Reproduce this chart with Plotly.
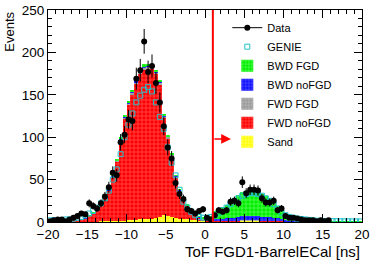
import numpy as np
import plotly.graph_objects as go

# ---- binning (0.5 ns bins from -20 to 20) ----
bin_centers = np.arange(-19.75, 20.0, 0.5)
BIN_WIDTH = 0.5
CUT_VALUE = 1.0
ARROW_Y = 98

data_counts = [1, 2, 3, 3, 1, 3, 5, 7, 10, 9,
               22, 19, 16, 22, 30, 41, 58, 55, 94, 103,
               121, 119, 169, 179, 213, 177, 184, 164, 141, 113,
               88, 75, 46, 33, 27, 15, 13, 10, 13, 15,
               5, 3, 8, 14, 12, 14, 24, 25, 22, 47,
               34, 38, 38, 37, 28, 23, 23, 25, 14, 16,
               7, 5, 5, 4, 3, 2, 2, 2, 1, 2,
               1, 2, None, None, None, None, None, None, None, None]

genie = [2, 2, 2, 2, 3, 3, 4, 5, 6, 8,
         10, 13, 17, 22, 28, 37, 50, 62, 80, 100,
         115, 128, 141, 149, 156, 159, 154, 141, 124, 110,
         88, 70, 55, 38, 24, 17, 12, 8, 6, 5,
         5, 6, 8, 11, 14, 17, 21, 25, 28, 31,
         33, 34, 34, 33, 31, 28, 25, 21, 16, 11,
         8, 6, 5, 4, 3.5, 3, 2.5, 2, 1.5, 1.3,
         1.2, 1, 1, 1, 0.8, 0.8, 0.8, 0.7, 0.7, 0.6]

sand = [0, 0, 0, 0, 0, 0, 0, 0.3, 0.3, 0.3,
        0.5, 0.5, 0.5, 0.8, 0.8, 1, 1, 1, 1.5, 1.5,
        2, 2, 2.5, 3, 3.5, 3, 4, 5, 6, 8,
        7, 6, 5, 4, 3.5, 3, 2.5, 2, 1.5, 1.5,
        1, 1, 1, 1, 1, 1, 1, 1, 1, 1.5,
        1.5, 1.5, 1.5, 1.5, 1, 1, 1, 1, 1, 1,
        0.5, 0.5, 0.5, 0.5, 0.5, 0.3, 0.3, 0.3, 0.3, 0.3,
        0.2, 0.2, 0.2, 0.1, 0.1, 0.1, 0.1, 0, 0, 0]

fwd_nofgd = [0.5, 1, 1, 1, 1, 1.5, 2, 2, 3, 4,
             7, 10, 14, 19, 27, 36, 52, 70, 95, 120,
             136, 148, 160, 171, 176, 177, 176, 169, 156, 115,
             92, 72, 48, 33, 24, 16, 11, 6, 4, 2,
             1, 0.5, 0.3, 0.3, 0.2, 0.2, 0.2, 0.2, 0.2, 0.2,
             0.2, 0.2, 0.2, 0.2, 0.2, 0.2, 0.2, 0.2, 0.2, 0.2,
             0.1, 0.1, 0.1, 0.1, 0.1, 0.1, 0.1, 0.1, 0.1, 0.1,
             0, 0, 0, 0, 0, 0, 0, 0, 0, 0]

fwd_fgd = [0, 0, 0, 0, 0, 0, 0, 0.1, 0.1, 0.1,
           0.2, 0.2, 0.3, 0.4, 0.5, 0.6, 0.8, 1, 1.3, 1.6,
           2, 2.2, 2.5, 2.7, 2.8, 2.8, 2.7, 2.5, 2.2, 1.8,
           1.5, 1.2, 0.9, 0.6, 0.4, 0.3, 0.2, 0.2, 0.1, 0.1,
           0.1, 0.1, 0.2, 0.2, 0.2, 0.2, 0.3, 0.3, 0.3, 0.3,
           0.3, 0.3, 0.3, 0.3, 0.3, 0.3, 0.3, 0.2, 0.2, 0.2,
           0.1, 0.1, 0.1, 0.1, 0.1, 0.1, 0.1, 0.1, 0.1, 0.1,
           0, 0, 0, 0, 0, 0, 0, 0, 0, 0]

bwd_nofgd = [0, 0, 0, 0, 0, 0, 0, 0, 0, 0.1,
             0.1, 0.1, 0.2, 0.2, 0.3, 0.4, 0.5, 0.6, 0.8, 1,
             1.2, 1.3, 1.4, 1.5, 1.5, 1.5, 1.4, 1.3, 1.2, 1,
             0.8, 0.6, 0.5, 0.4, 0.3, 0.3, 0.3, 0.3, 0.4, 0.6,
             1, 1.5, 2, 2, 2.5, 3, 3, 3.5, 4, 4.5,
             5, 5, 5, 5, 4.5, 4, 4, 3.5, 3, 2,
             1.5, 1, 1, 0.5, 0.5, 0.5, 0.4, 0.3, 0.3, 0.2,
             0.2, 0.2, 0.1, 0.1, 0.1, 0, 0, 0, 0, 0]

bwd_fgd = [0, 0, 0, 0, 0, 0, 0, 0, 0, 0,
           0.1, 0.1, 0.2, 0.3, 0.4, 0.5, 0.6, 0.8, 1, 1.2,
           1.5, 1.8, 2, 2.2, 2.3, 2.3, 2.2, 2, 1.8, 1.5,
           1.2, 1, 0.8, 0.6, 0.5, 0.5, 0.5, 0.6, 0.8, 1.2,
           2, 4, 9, 11, 13.5, 16, 20, 23.5, 26, 28.5,
           30, 31, 31, 30, 27.5, 25, 22, 19.5, 15, 10,
           5, 4.5, 3.5, 3, 2.5, 2, 1.5, 1.2, 1, 0.8,
           0.6, 0.5, 0.4, 0.3, 0.3, 0.3, 0.2, 0.2, 0.2, 0.2]

FONT = "Liberation Sans, Arial, Helvetica, sans-serif"

fig = go.Figure()

# stacked MC components (bottom to top)
stack = [
    ("Sand", sand, "#ffff00", "#ffff99", 7),
    ("FWD noFGD", fwd_nofgd, "#ff0000", "#ff6a6a", 6),
    ("FWD FGD", fwd_fgd, "#9a9a9a", "#c4c4c4", 5),
    ("BWD noFGD", bwd_nofgd, "#1010ff", "#6464ff", 4),
    ("BWD FGD", bwd_fgd, "#00ee00", "#7cff7c", 3),
]
for name, vals, col, fg, rank in stack:
    fig.add_trace(go.Bar(
        x=bin_centers, y=vals, name=name, width=BIN_WIDTH,
        marker=dict(color=col, line=dict(width=0),
                    pattern=dict(shape="+", fgcolor=fg, bgcolor=col, fillmode="replace",
                                 size=4, solidity=0.25)),
        legendrank=rank,
    ))

# GENIE open squares
fig.add_trace(go.Scatter(
    x=bin_centers, y=genie, mode="markers", name="GENIE",
    marker=dict(symbol="square-open", size=5, color="#20c0c8", line=dict(width=1)),
    legendrank=2,
))

# Data legend entry (line + marker)
fig.add_trace(go.Scatter(
    x=[None], y=[None], mode="lines+markers", name="Data",
    line=dict(color="black", width=1),
    marker=dict(symbol="circle", size=6, color="black"),
    legendrank=1,
))

data_err = [None if v is None else float(np.sqrt(v)) for v in data_counts]
fig.add_trace(go.Scatter(
    x=bin_centers, y=data_counts, mode="markers", name="Data", showlegend=False,
    marker=dict(symbol="circle", size=6, color="black"),
    error_y=dict(type="data", array=data_err, visible=True, color="black", thickness=1, width=0),
    error_x=dict(type="constant", value=BIN_WIDTH / 2, visible=True, color="black", thickness=1, width=0),
))

# cut line and arrow
fig.add_shape(type="line", x0=CUT_VALUE, x1=CUT_VALUE, y0=0, y1=250,
              xref="x", yref="y", line=dict(color="#ff0000", width=2))
fig.add_annotation(x=CUT_VALUE + 2.3, y=ARROW_Y, ax=CUT_VALUE, ay=ARROW_Y,
                   xref="x", yref="y", axref="x", ayref="y", text="",
                   showarrow=True, arrowhead=2, arrowsize=1.3, arrowwidth=1.5,
                   arrowcolor="#ff0000")

# axis titles
fig.add_annotation(text="Events", xref="paper", yref="paper", x=-0.125, y=1.0,
                   xanchor="center", yanchor="top", textangle=-90, showarrow=False,
                   font=dict(size=13, family=FONT, color="black"))
fig.add_annotation(text="ToF FGD1-BarrelECal [ns]", xref="paper", yref="paper",
                   x=1.0, y=-0.138, xanchor="right", yanchor="middle", showarrow=False,
                   font=dict(size=15, family=FONT, color="black"))

fig.update_layout(
    template="none",
    width=374, height=261,
    margin=dict(l=48, r=12, t=10, b=39, pad=0, autoexpand=False),
    barmode="stack", bargap=0,
    plot_bgcolor="white", paper_bgcolor="white",
    font=dict(family=FONT, size=13, color="black"),
    showlegend=True,
    legend=dict(x=0.571, y=0.985, xanchor="left", yanchor="top",
                bgcolor="rgba(0,0,0,0)", borderwidth=0,
                font=dict(size=11, family=FONT), traceorder="normal",
                itemwidth=30),
)
fig.update_xaxes(range=[-20, 20], dtick=5, tick0=0, ticks="inside", ticklen=8,
                 tickcolor="black", showline=True, linecolor="black", linewidth=1,
                 mirror="ticks", showgrid=False, zeroline=False, automargin=False,
                 minor=dict(dtick=1, ticks="inside", ticklen=4, tickcolor="black", showgrid=False),
                 tickfont=dict(size=13.5))
fig.update_yaxes(range=[0, 250], dtick=50, tick0=0, ticks="inside", ticklen=8,
                 tickcolor="black", showline=True, linecolor="black", linewidth=1,
                 mirror="ticks", showgrid=False, zeroline=False, automargin=False,
                 minor=dict(dtick=10, ticks="inside", ticklen=4, tickcolor="black", showgrid=False),
                 tickfont=dict(size=13.5))

fig.write_html("out.html",
               config={"displayModeBar": False},
               post_script="document.body.style.margin='0';document.body.style.padding='0';")
